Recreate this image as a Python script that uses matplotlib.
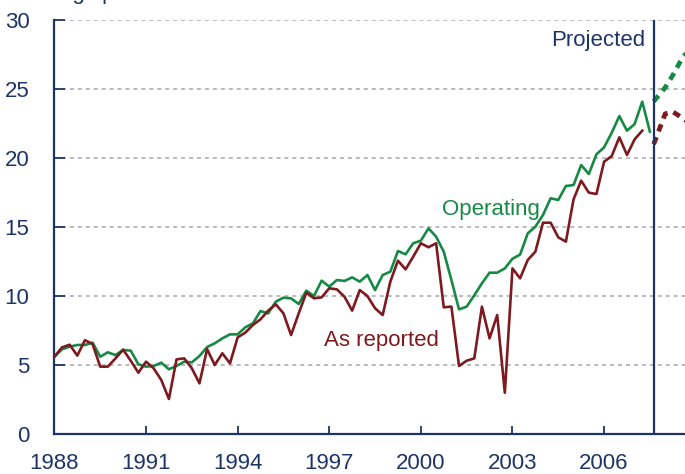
import matplotlib
matplotlib.use("Agg")
import matplotlib.pyplot as plt
import numpy as np

# quarterly values, starting 1988 Q1
operating = [5.6, 6.14, 6.33, 6.45,
             6.45, 6.62, 5.6, 5.92,
             5.72, 6.09, 6.04, 5.05,
             4.88, 4.93, 5.17, 4.69,
             4.93, 5.24, 5.19, 5.65,
             6.3, 6.57, 6.93, 7.22,
             7.22, 7.73, 8.02, 8.91,
             8.74, 9.59, 9.88, 9.83,
             9.42, 10.39, 10.0, 11.11,
             10.68, 11.16, 11.09, 11.35,
             11.04, 11.52, 10.43, 11.52,
             11.76, 13.26, 13.02, 13.82,
             14.01, 14.9, 14.3, 13.21,
             11.16, 9.03, 9.23, 10.05,
             10.92, 11.69, 11.69, 12.0,
             12.7, 13.0, 14.54, 15.02,
             15.87, 17.08, 16.96, 17.97,
             18.04, 19.49, 18.84, 20.27,
             20.77, 21.83, 23.04, 21.98,
             22.46, 24.08, 21.91]

reported = [5.6, 6.28, 6.47, 5.68,
            6.8, 6.52, 4.88, 4.88,
            5.48, 6.11, 5.31, 4.44,
            5.24, 4.76, 3.91, 2.54,
            5.41, 5.48, 4.76, 3.67,
            6.15, 5.0, 5.85, 5.12,
            7.0, 7.34, 7.9, 8.31,
            8.94, 9.4, 8.74, 7.17,
            8.74, 10.24, 9.83, 9.9,
            10.56, 10.48, 9.95, 8.94,
            10.43, 10.0, 9.11, 8.62,
            11.04, 12.56, 11.93, 12.85,
            13.82, 13.53, 13.82, 9.18,
            9.23, 4.93, 5.31, 5.48,
            9.23, 6.93, 8.62, 2.99,
            12.0, 11.28, 12.61, 13.21,
            15.31, 15.31, 14.25, 13.94,
            17.0, 18.36, 17.49, 17.39,
            19.73, 20.14, 21.5, 20.22,
            21.35, 21.98]

proj_t = [2007.625, 2008.0, 2008.25, 2008.5, 2008.75]
proj_operating = [24.1, 25.1, 26.0, 27.0, 27.8]
proj_reported = [21.0, 23.2, 23.35, 23.0, 22.6]

year_ticks = [1988, 1991, 1994, 1997, 2000, 2003, 2006]
y_ticks = [0, 5, 10, 15, 20, 25, 30]
proj_start = 2007.625

navy = "#1d3566"
green = "#168a45"
red = "#7d1a1f"

t_op = 1988 + np.arange(len(operating)) / 4
t_rep = 1988 + np.arange(len(reported)) / 4

plt.rcParams['font.family'] = ['Liberation Sans', 'DejaVu Sans']

fig = plt.figure(figsize=(6.85, 4.74), dpi=100)
ax = fig.add_axes([54.4 / 685, 40 / 474, 1 - 54.4 / 685, 414 / 474])

for v in y_ticks[1:]:
    ax.axhline(v, color="#b4b4b4", lw=1.3, ls=(0, (2.2, 2.2)), zorder=0)

ax.plot(t_op, operating, color=green, lw=1.9, zorder=3)
ax.plot(t_rep, reported, color=red, lw=1.9, zorder=3)
ax.plot(proj_t, proj_operating, color=green, lw=3.4, ls=(0, (1.6, 1.3)), zorder=3)
ax.plot(proj_t, proj_reported, color=red, lw=3.4, ls=(0, (1.6, 1.3)), zorder=3)

ax.axvline(proj_start, color=navy, lw=1.6, zorder=4)

ax.set_xlim(1988, 2008.65)
ax.set_ylim(0, 30)
ax.set_xticks(year_ticks)
ax.set_yticks(y_ticks)
ax.tick_params(axis='both', direction='in', colors=navy, labelsize=16, width=1.3)
ax.tick_params(axis='x', length=6, pad=14)
ax.tick_params(axis='y', length=8, pad=18)

for s in ['top', 'right']:
    ax.spines[s].set_visible(False)
for s in ['left', 'bottom']:
    ax.spines[s].set_color(navy)
    ax.spines[s].set_linewidth(1.6)

ax.text(2002.3, 16.3, "Operating", color=green, fontsize=16, ha='center', va='center')
ax.text(1998.72, 6.74, "As reported", color=red, fontsize=16, ha='center', va='center')
ax.text(2007.35, 28.55, "Projected", color=navy, fontsize=16, ha='right', va='center')

# unit label sits mostly above the top edge, as in the source image
fig.text(8 / 685, 1 + 1 / 474, "Earnings per share", color=navy, fontsize=16,
         ha='left', va='baseline')

fig.savefig("out.png", dpi=100)
